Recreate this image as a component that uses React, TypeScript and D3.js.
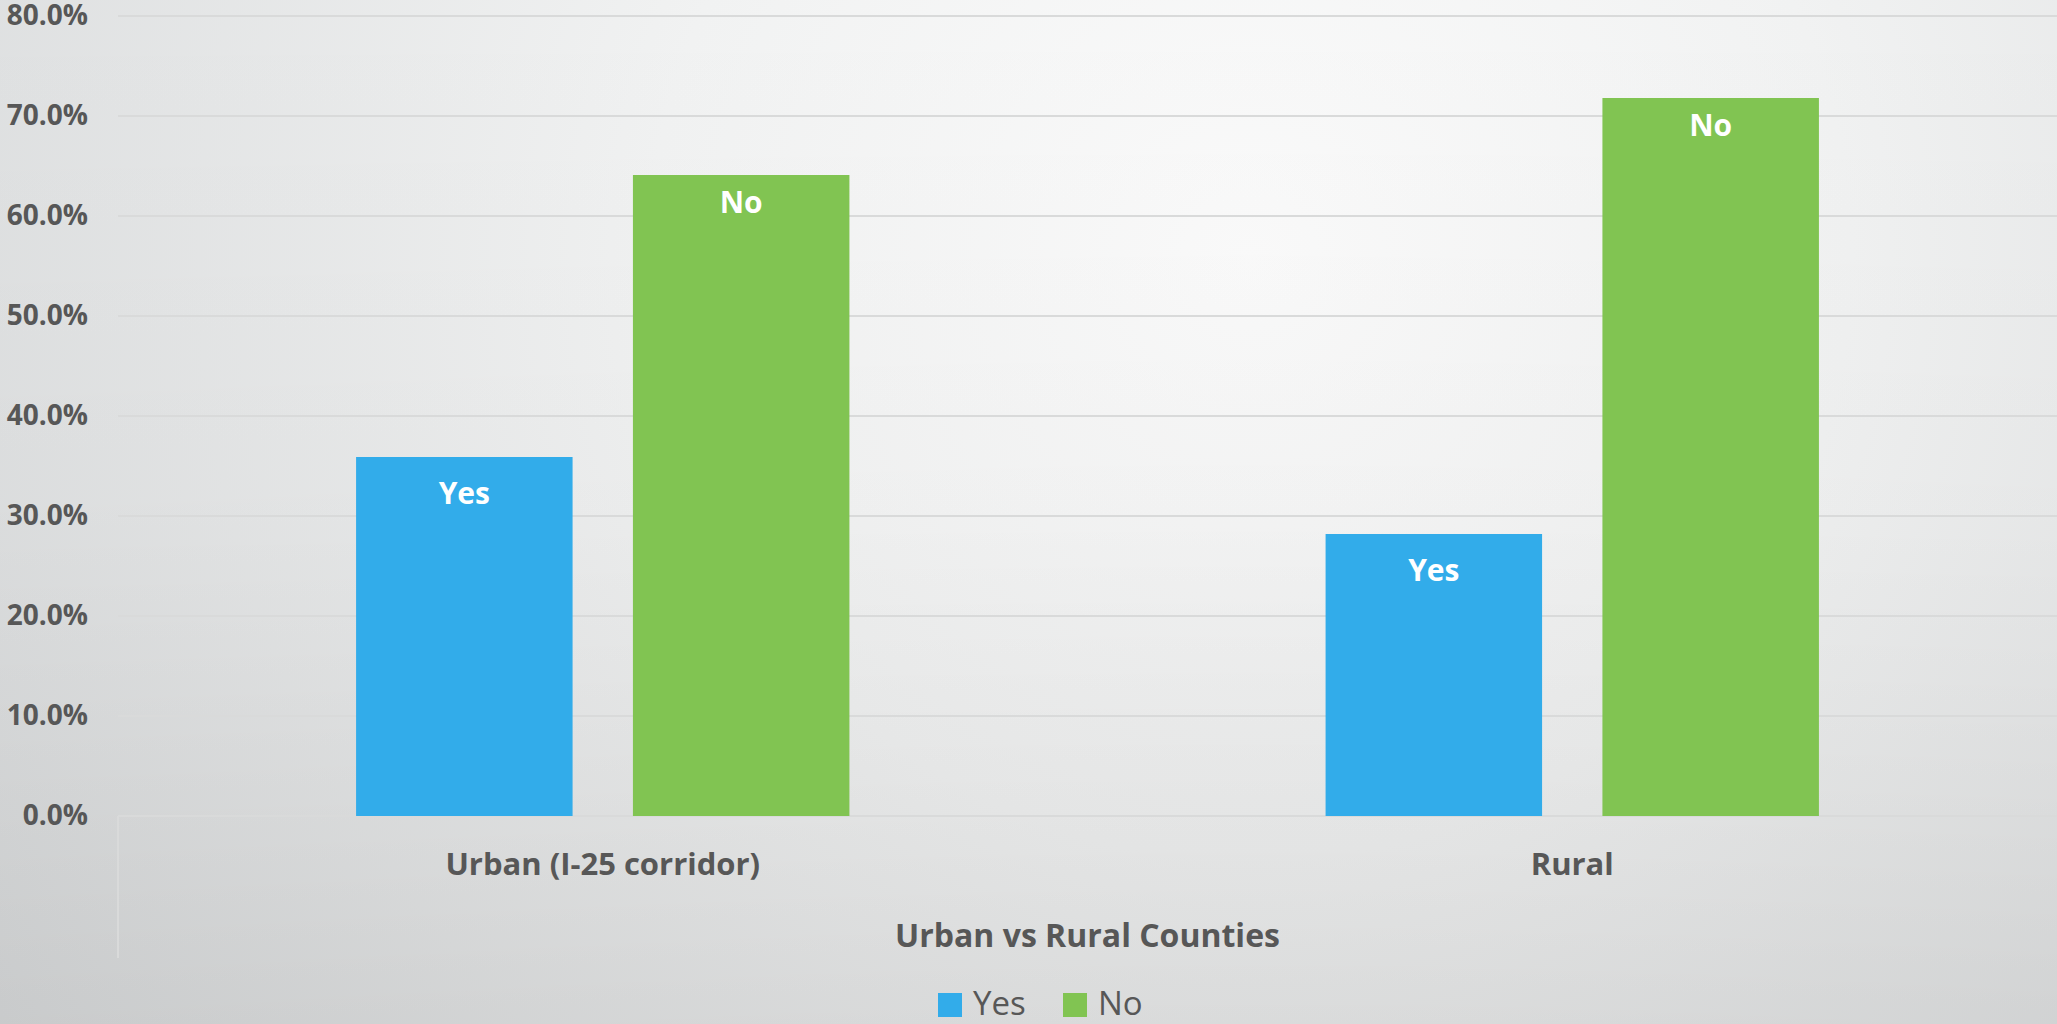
import React from "react";
import * as d3 from "d3";

const categories = ["Urban (I-25 corridor)", "Rural"];
const seriesNames = ["Yes", "No"];
const yesValues = [0.359, 0.282];
const noValues = [0.641, 0.718];
const yTicks = [0, 0.1, 0.2, 0.3, 0.4, 0.5, 0.6, 0.7, 0.8];
const axisTitle = "Urban vs Rural Counties";

const W = 2057;
const H = 1024;
const colors: Record<string, string> = { Yes: "#32acea", No: "#81c452" };
const labelOffset: Record<string, number> = { Yes: 47, No: 38 };
const textColor = "#575757";
const gridColor = "#d9dada";
const font = "'Open Sans', 'DejaVu Sans', sans-serif";

export default function App() {
  const y = d3.scaleLinear().domain([0, 0.8]).range([816, 16]);
  const x0 = d3.scaleBand<string>().domain(categories).range([118, W]).padding(0);
  const x1 = d3
    .scaleBand<string>()
    .domain(seriesNames)
    .range([0, x0.bandwidth()])
    .paddingInner(0.218)
    .paddingOuter(0.86);
  const fmt = d3.format(".1%");
  const valuesBySeries: Record<string, number[]> = { Yes: yesValues, No: noValues };
  const [xl, xr] = x0.range();
  const legendItems = seriesNames;

  return (
    <svg
      width={W}
      height={H}
      style={{ position: "absolute", left: 0, top: 0, display: "block" }}
      fontFamily={font}
    >
      <defs>
        <radialGradient id="bg" gradientUnits="userSpaceOnUse" cx={1250} cy={260} r={1500}>
          <stop offset="0" stopColor="#fbfbfb" />
          <stop offset="0.4" stopColor="#f1f2f2" />
          <stop offset="1" stopColor="#d9dbdc" />
        </radialGradient>
        <linearGradient id="shade" x1="0" y1="0" x2="0" y2="1">
          <stop offset="0" stopColor="#000" stopOpacity={0} />
          <stop offset="0.5" stopColor="#000" stopOpacity={0.02} />
          <stop offset="1" stopColor="#000" stopOpacity={0.08} />
        </linearGradient>
      </defs>
      <rect x={0} y={0} width={W} height={H} fill="url(#bg)" />
      <rect x={0} y={0} width={W} height={H} fill="url(#shade)" />

      {yTicks.map((t) => (
        <g key={t}>
          <line x1={xl} x2={xr} y1={y(t)} y2={y(t)} stroke={gridColor} strokeWidth={2} />
          <text
            x={88}
            y={y(t) + 9}
            textAnchor="end"
            fontSize={28}
            fontWeight={700}
            fill={textColor}
          >
            {fmt(t)}
          </text>
        </g>
      ))}
      <line x1={xl} x2={xl} y1={y(0)} y2={958} stroke={gridColor} strokeWidth={2} />

      {categories.map((c, i) => (
        <g key={c} transform={`translate(${x0(c)},0)`}>
          {seriesNames.map((s) => {
            const v = valuesBySeries[s][i];
            const bx = x1(s)!;
            return (
              <g key={s}>
                <rect
                  x={bx}
                  y={y(v)}
                  width={x1.bandwidth()}
                  height={y(0) - y(v)}
                  fill={colors[s]}
                />
                <text
                  x={bx + x1.bandwidth() / 2}
                  y={y(v) + labelOffset[s]}
                  textAnchor="middle"
                  fontSize={30}
                  fontWeight={700}
                  fill="#ffffff"
                >
                  {s}
                </text>
              </g>
            );
          })}
          <text
            x={x0.bandwidth() / 2}
            y={875}
            textAnchor="middle"
            fontSize={31}
            fontWeight={700}
            fill={textColor}
          >
            {c}
          </text>
        </g>
      ))}

      <text
        x={(xl + xr) / 2}
        y={947}
        textAnchor="middle"
        fontSize={32}
        fontWeight={700}
        fill={textColor}
      >
        {axisTitle}
      </text>

      <g>
        {legendItems.map((s, i) => {
          const lx = 938 + i * 125;
          return (
            <g key={s}>
              <rect x={lx} y={993} width={24} height={24} fill={colors[s]} />
              <text x={lx + 35} y={1015} fontSize={33} fill={textColor}>
                {s}
              </text>
            </g>
          );
        })}
      </g>
    </svg>
  );
}
